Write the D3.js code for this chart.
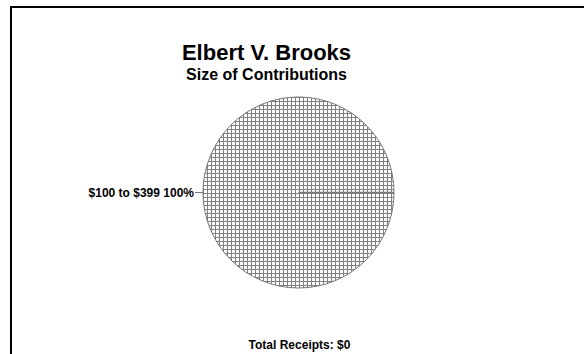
<!DOCTYPE html>
<html><head><meta charset="utf-8">
<script src="https://cdn.jsdelivr.net/npm/d3@7"></script>
<style>body{margin:0;background:#fff}svg{display:block}text{font-family:"Liberation Sans",Arial,sans-serif;font-weight:bold;fill:#000}</style>
</head><body>
<script>
const title = "Elbert V. Brooks";
const subtitle = "Size of Contributions";
const categories = ["$100 to $399"];
const values = [100];
const totalLabel = "Total Receipts: $0";

const W = 584, H = 354;
const svg = d3.select("body").append("svg").attr("width", W).attr("height", H);

const defs = svg.append("defs");
const pat = defs.append("pattern").attr("id", "hatch").attr("patternUnits", "userSpaceOnUse")
  .attr("width", 4).attr("height", 4).attr("x", 0.5).attr("y", 0.5);
pat.append("rect").attr("width", 4).attr("height", 4).attr("fill", "#fff");
pat.append("path").attr("d", "M0,0.5H4M0.5,0V4").attr("stroke", "#808080").attr("stroke-width", 1);

// frame
svg.append("path").attr("d", `M11,${H}V7H${W}`).attr("fill", "none").attr("stroke", "#000").attr("stroke-width", 2);

svg.append("text").attr("x", 266.5).attr("y", 60).attr("text-anchor", "middle").attr("font-size", 22).text(title);
svg.append("text").attr("x", 266.5).attr("y", 80).attr("text-anchor", "middle").attr("font-size", 16).text(subtitle);

const cx = 298.5, cy = 192.5, r = 95.5;
const total = d3.sum(values);
const pie = d3.pie().sort(null).startAngle(Math.PI / 2).endAngle(Math.PI / 2 + 2 * Math.PI);
const arcs = pie(values);
const arc = d3.arc().innerRadius(0).outerRadius(r);
const g = svg.append("g").attr("transform", `translate(${cx},${cy})`);
g.selectAll("path.slice").data(arcs).enter().append("path").attr("class", "slice")
  .attr("d", arc).attr("fill", "url(#hatch)").attr("stroke", "#777").attr("stroke-width", 1);
// slice boundaries
g.selectAll("line.bound").data(arcs).enter().append("line").attr("class", "bound")
  .attr("x1", 0).attr("y1", 0)
  .attr("x2", d => r * Math.sin(d.startAngle)).attr("y2", d => -r * Math.cos(d.startAngle))
  .attr("stroke", "#777").attr("stroke-width", 1.5);
// labels
arcs.forEach((d, i) => {
  const a = (d.startAngle + d.endAngle) / 2;
  const x1 = r * Math.sin(a), y1 = -r * Math.cos(a);
  const x0 = (r + 8) * Math.sin(a), y0 = -(r + 8) * Math.cos(a);
  g.append("line").attr("x1", x0).attr("y1", y0).attr("x2", x1).attr("y2", y1).attr("stroke", "#777");
  g.append("text").attr("x", x0 - 1).attr("y", y0 + 4).attr("text-anchor", "end").attr("font-size", 12)
    .text(`${categories[i]} ${Math.round(values[i] / total * 100)}%`);
});

svg.append("text").attr("x", 299.5).attr("y", 349).attr("text-anchor", "middle").attr("font-size", 12).text(totalLabel);
</script>
</body></html>
